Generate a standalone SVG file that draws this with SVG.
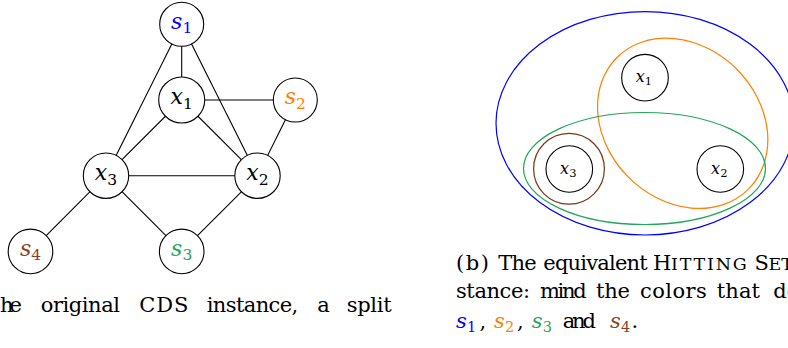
<svg xmlns="http://www.w3.org/2000/svg" width="788" height="348" viewBox="0 0 788 348">
<style>
.edge{stroke:#000;stroke-width:1.1;fill:none}
.node{fill:#fff;stroke:#000;stroke-width:1.1}
.elem{fill:none;stroke:#000;stroke-width:1.1}
.set{fill:none;stroke-width:1.2}
.lbl{font-style:italic;font-size:22px;fill:#000}
.lbl .sub{font-style:normal;font-size:15.5px}
.rl{font-style:italic;font-size:16px;fill:#000}
.rl .sub{font-style:normal;font-size:11.5px}
.cap{font-size:21px;fill:#000}
.sc{font-size:17.5px}
.m{font-style:italic}
.ms{font-style:normal;font-size:14.5px}
.blue{fill:#0000ff}
.orange{fill:#ff8000}
.green{fill:#1fa65a}
.brown{fill:#8e3f1e}
</style>
<g id="connectors">
<line class="edge" x1="181.7" y1="24.3" x2="181.7" y2="100"/>
<line class="edge" x1="181.7" y1="24.3" x2="106" y2="175.7"/>
<line class="edge" x1="181.7" y1="24.3" x2="257.5" y2="175.7"/>
<line class="edge" x1="181.7" y1="100" x2="295.3" y2="100"/>
<line class="edge" x1="181.7" y1="100" x2="106" y2="175.7"/>
<line class="edge" x1="181.7" y1="100" x2="257.5" y2="175.7"/>
<line class="edge" x1="295.3" y1="100" x2="257.5" y2="175.7"/>
<line class="edge" x1="106" y1="175.7" x2="257.5" y2="175.7"/>
<line class="edge" x1="106" y1="175.7" x2="30.5" y2="251.4"/>
<line class="edge" x1="106" y1="175.7" x2="181.7" y2="251.4"/>
<line class="edge" x1="257.5" y1="175.7" x2="181.7" y2="251.4"/>
</g>
<g font-family="DejaVu Serif, serif">
<g id="node-s1"><circle class="node" cx="181.7" cy="24.3" r="22"/><text class="lbl blue" x="181.7" y="28.8" text-anchor="middle">s<tspan class="sub" dy="4.5">1</tspan></text></g>
<g id="node-x1"><circle class="node" cx="181.7" cy="100" r="23"/><text class="lbl" x="181.7" y="104.3" text-anchor="middle">x<tspan class="sub" dy="4.5">1</tspan></text></g>
<g id="node-s2"><circle class="node" cx="295.3" cy="100" r="22"/><text class="lbl orange" x="295.3" y="104.3" text-anchor="middle">s<tspan class="sub" dy="4.5">2</tspan></text></g>
<g id="node-x3"><circle class="node" cx="106" cy="175.7" r="22.7"/><text class="lbl" x="106" y="180" text-anchor="middle">x<tspan class="sub" dy="4.5">3</tspan></text></g>
<g id="node-x2"><circle class="node" cx="257.5" cy="175.7" r="22.7"/><text class="lbl" x="257.5" y="180" text-anchor="middle">x<tspan class="sub" dy="4.5">2</tspan></text></g>
<g id="node-s4"><circle class="node" cx="30.5" cy="251.4" r="22.3"/><text class="lbl brown" x="30.5" y="255.7" text-anchor="middle">s<tspan class="sub" dy="4.5">4</tspan></text></g>
<g id="node-s3"><circle class="node" cx="181.7" cy="251.4" r="22.3"/><text class="lbl green" x="181.7" y="255.7" text-anchor="middle">s<tspan class="sub" dy="4.5">3</tspan></text></g>
<text class="cap" y="311.5"><tspan x="0" textLength="22">he</tspan><tspan x="40.7" textLength="79.3">original</tspan><tspan x="139.3" textLength="49">CDS</tspan><tspan x="206.7" textLength="91.6">instance,</tspan><tspan x="317.3" textLength="12">a</tspan><tspan x="346.7" textLength="45">split</tspan></text>
<g id="set-s1"><ellipse class="set" cx="645" cy="123.3" rx="149" ry="111.7" stroke="#0000ff"/></g>
<g id="set-s2"><ellipse class="set" cx="682.7" cy="123.3" rx="93" ry="76.5" transform="rotate(45 682.7 123.3)" stroke="#ff8000"/></g>
<g id="set-s3"><ellipse class="set" cx="644.5" cy="168.5" rx="121" ry="56" stroke="#1fa65a"/></g>
<g id="set-s4"><circle class="set" cx="569" cy="168.8" r="35.4" stroke="#7b3516"/></g>
<g id="elem-x1"><circle class="elem" cx="645" cy="77.7" r="23.3"/><text class="rl" x="644" y="82.3" text-anchor="middle">x<tspan class="sub" dy="3">1</tspan></text></g>
<g id="elem-x3"><circle class="elem" cx="569.3" cy="169" r="23.3"/><text class="rl" x="568.3" y="173.6" text-anchor="middle">x<tspan class="sub" dy="3">3</tspan></text></g>
<g id="elem-x2"><circle class="elem" cx="720.3" cy="169" r="23.3"/><text class="rl" x="719.3" y="173.6" text-anchor="middle">x<tspan class="sub" dy="3">2</tspan></text></g>
<text class="cap" y="269.5"><tspan x="456" textLength="33">(b)</tspan><tspan x="498.3" textLength="38.3">The</tspan><tspan x="543.3" textLength="104.5">equivalent</tspan><tspan x="653">H</tspan><tspan x="671" class="sc" textLength="75.7">ITTING</tspan><tspan x="754.5">S</tspan><tspan x="768.5" class="sc">ET</tspan></text>
<text class="cap" y="297.7"><tspan x="456" textLength="74">stance:</tspan><tspan x="540" textLength="46.7">mind</tspan><tspan x="596" textLength="34">the</tspan><tspan x="640" textLength="66.7">colors</tspan><tspan x="716.7" textLength="43.3">that</tspan><tspan x="773.3">de</tspan></text>
<text class="cap" y="327.5"><tspan x="456" class="m blue">s</tspan><tspan x="467" dy="4" class="ms blue">1</tspan><tspan x="479.5" dy="-4">,</tspan><tspan x="494" class="m orange">s</tspan><tspan x="505" dy="4" class="ms orange">2</tspan><tspan x="517" dy="-4">,</tspan><tspan x="531.7" class="m green">s</tspan><tspan x="542.7" dy="4" class="ms green">3</tspan><tspan x="562.7" dy="-4" textLength="33.3">and</tspan><tspan x="610" class="m brown">s</tspan><tspan x="621" dy="4" class="ms brown">4</tspan><tspan x="631.5" dy="-4">.</tspan></text>
</g>
</svg>
